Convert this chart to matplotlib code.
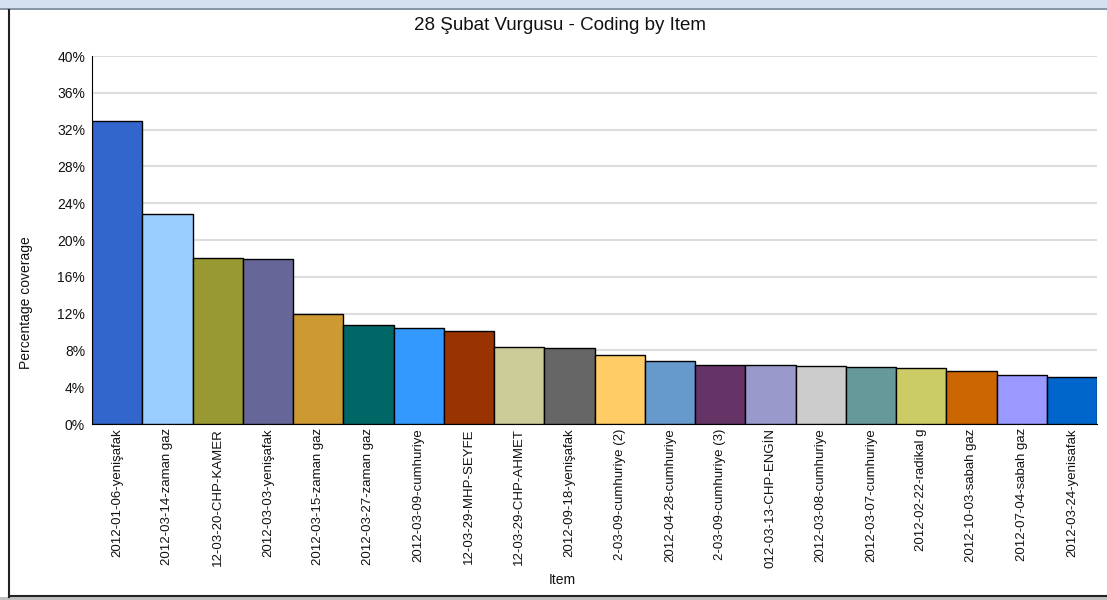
import matplotlib
matplotlib.use("Agg")
import matplotlib.pyplot as plt
from matplotlib.patches import Rectangle
from matplotlib.lines import Line2D
from matplotlib.ticker import FuncFormatter, MultipleLocator

# item names as shown (long names are cut off in the original chart)
items = ["2012-01-06-yenişafak", "2012-03-14-zaman gaz", "12-03-20-CHP-KAMER",
         "2012-03-03-yenişafak", "2012-03-15-zaman gaz", "2012-03-27-zaman gaz",
         "2012-03-09-cumhuriye", "12-03-29-MHP-SEYFE", "12-03-29-CHP-AHMET",
         "2012-09-18-yenişafak", "2-03-09-cumhuriye (2)", "2012-04-28-cumhuriye",
         "2-03-09-cumhuriye (3)", "012-03-13-CHP-ENGİN", "2012-03-08-cumhuriye",
         "2012-03-07-cumhuriye", "2012-02-22-radikal g", "2012-10-03-sabah gaz",
         "2012-07-04-sabah gaz", "2012-03-24-yenisafak"]
coverage = [32.9, 22.8, 18.0, 17.9, 12.0, 10.8, 10.4, 10.1, 8.4, 8.3,
            7.5, 6.85, 6.4, 6.4, 6.3, 6.2, 6.1, 5.8, 5.3, 5.1]
colors = ["#3366cc", "#99ccff", "#999933", "#666699", "#cc9933", "#006666",
          "#3399ff", "#993300", "#cccc99", "#666666", "#ffcc66", "#6699cc",
          "#663366", "#9999cc", "#cccccc", "#669999", "#cccc66", "#cc6600",
          "#9999ff", "#0066cc"]

plt.rcParams['font.family'] = ['Liberation Sans', 'DejaVu Sans']

fig = plt.figure(figsize=(11.07, 6.0), dpi=100)
W, H = 1107, 600

# window frame around the chart
fig.patches.append(Rectangle((0, 1 - 8 / H), 1, 8 / H, transform=fig.transFigure,
                             facecolor="#d5e1f0", edgecolor="none"))
fig.patches.append(Rectangle((0, 1 - 10 / H), 1, 2 / H, transform=fig.transFigure,
                             facecolor="#8a97a8", edgecolor="none"))
fig.patches.append(Rectangle((0, 0), 1, 3 / H, transform=fig.transFigure,
                             facecolor="#c0c0c0", edgecolor="none"))
fig.lines.append(Line2D([9 / W, 9 / W], [3.5 / H, 1 - 10 / H], transform=fig.transFigure,
                        color="#222222", lw=1.5))
fig.lines.append(Line2D([9 / W, 1], [4 / H, 4 / H], transform=fig.transFigure,
                        color="#222222", lw=1.5))

ax = fig.add_axes([92 / W, 1 - 424 / H, (1097 - 92) / W, (424 - 56) / H])
x = list(range(len(items)))
ax.bar(x, coverage, width=1.0, color=colors, edgecolor="black", linewidth=1.0, zorder=3)

ax.set_xlim(-0.5, len(items) - 0.5)
ax.set_ylim(0, 40)
ax.yaxis.set_major_locator(MultipleLocator(4))
ax.yaxis.set_major_formatter(FuncFormatter(lambda v, p: f"{v:.0f}%"))
ax.grid(axis="y", color="#dddddd", linewidth=1.5, zorder=0)
ax.set_axisbelow(True)

ax.set_xticks(x)
ax.set_xticklabels(items, rotation=90, fontsize=9.5, color="#111111")
ax.tick_params(axis="y", labelsize=10, length=0, pad=5, labelcolor="#111111")
ax.tick_params(axis="x", length=0, pad=3)

for s in ["top", "right"]:
    ax.spines[s].set_visible(False)
ax.spines["left"].set_color("black")
ax.spines["bottom"].set_color("black")

fig.text(560 / W, 1 - 26 / H, "28 Şubat Vurgusu - Coding by Item", fontsize=13.5,
         ha="center", va="center", color="#111111")
fig.text(26 / W, 1 - 303 / H, "Percentage coverage", fontsize=10, rotation=90,
         ha="center", va="center", color="#111111")
fig.text(562 / W, 1 - 580 / H, "Item", fontsize=10, ha="center", va="center",
         color="#111111")

fig.savefig("out.png", dpi=100)
